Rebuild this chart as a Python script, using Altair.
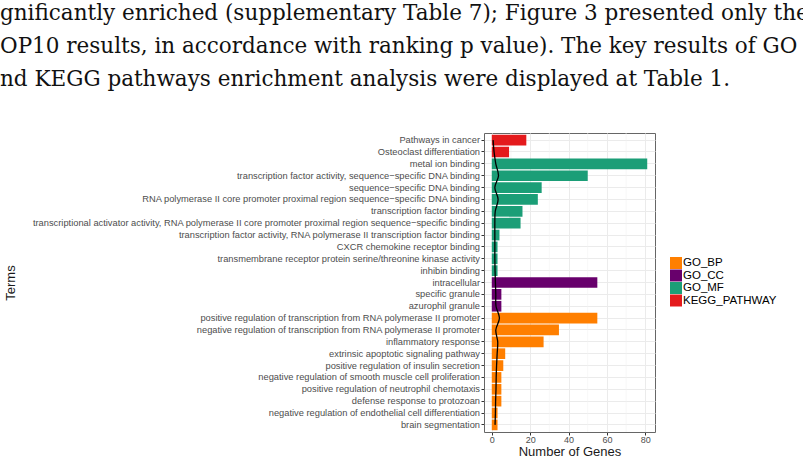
import altair as alt
import pandas as pd

# ---- data ----
terms = [
    "Pathways in cancer",
    "Osteoclast differentiation",
    "metal ion binding",
    "transcription factor activity, sequence\u2212specific DNA binding",
    "sequence\u2212specific DNA binding",
    "RNA polymerase II core promoter proximal region sequence\u2212specific DNA binding",
    "transcription factor binding",
    "transcriptional activator activity, RNA polymerase II core promoter proximal region sequence\u2212specific binding",
    "transcription factor activity, RNA polymerase II transcription factor binding",
    "CXCR chemokine receptor binding",
    "transmembrane receptor protein serine/threonine kinase activity",
    "inhibin binding",
    "intracellular",
    "specific granule",
    "azurophil granule",
    "positive regulation of transcription from RNA polymerase II promoter",
    "negative regulation of transcription from RNA polymerase II promoter",
    "inflammatory response",
    "extrinsic apoptotic signaling pathway",
    "positive regulation of insulin secretion",
    "negative regulation of smooth muscle cell proliferation",
    "positive regulation of neutrophil chemotaxis",
    "defense response to protozoan",
    "negative regulation of endothelial cell differentiation",
    "brain segmentation",
]
categories = (["KEGG_PATHWAY"] * 2 + ["GO_MF"] * 10 + ["GO_CC"] * 3 + ["GO_BP"] * 10)
counts = [18, 9, 81, 50, 26, 24, 16, 15, 4, 3, 3, 3, 55, 5, 5, 55, 35, 27, 7, 6, 5, 5, 5, 3, 3]
trend = [0.7, 1.2, 2.1, 3.5, 1.6, 3.3, 1.8, 1.6, 1.6, 1.6, 1.6, 1.7, 1.9, 2.1, 2.2,
         4.0, 2.1, 3.1, 2.8, 2.5, 2.3, 2.2, 2.0, 1.9, 1.7]

legend_groups = ["GO_BP", "GO_CC", "GO_MF", "KEGG_PATHWAY"]
legend_colors = ["#FF7F00", "#68006C", "#1B9E77", "#E41A1C"]
x_ticks = [0, 20, 40, 60, 80]
x_minor = [10, 30, 50, 70]

text_lines = [
    "gnificantly enriched (supplementary Table 7); Figure 3 presented only the",
    "OP10 results, in accordance with ranking p value). The key results of GO",
    "nd KEGG pathways enrichment analysis were displayed at Table 1.",
]

df = pd.DataFrame({
    "Term": terms,
    "Category": categories,
    "Count": counts,
    "Trend": trend,
    "idx": list(range(len(terms))),
})
minor_df = pd.DataFrame({"v": x_minor})

# ---- layout ----
W, H = 171, 299
PAD = {"left": 484, "top": 133, "right": 148, "bottom": 26}
FONT = "Liberation Sans"

x_scale = alt.Scale(domain=[-4.05, 85.05], nice=False, zero=False)
y_scale = alt.Scale(domain=terms, paddingInner=0.1, paddingOuter=0.15)

x_axis = alt.Axis(
    values=x_ticks, title="Number of Genes", domain=False, grid=True,
    gridColor="#EBEBEB", gridWidth=1, tickColor="#333333", tickSize=3,
    labelFont=FONT, labelFontSize=9, labelColor="#4D4D4D", labelPadding=0.5,
    titleFont=FONT, titleFontSize=13, titleFontWeight="normal", titleColor="#1A1A1A",
    titleX=W / 2, titleY=19.5, titleBaseline="middle", titleAlign="center",
)
y_axis = alt.Axis(
    title="Terms", domain=False, grid=True, gridColor="#EBEBEB", gridWidth=1,
    bandPosition=0.5, tickColor="#333333", tickSize=3, labelFont=FONT,
    labelFontSize=9.3, labelColor="#4D4D4D", labelPadding=1.5, labelLimit=0,
    titleFont=FONT, titleFontSize=13, titleFontWeight="normal", titleColor="#1A1A1A",
    titleX=-474, titleY=H / 2, titleAngle=270, titleBaseline="middle", titleAlign="center",
)

minor = alt.Chart(minor_df).mark_rule(color="#F2F2F2", strokeWidth=0.6).encode(
    x=alt.X("v:Q", scale=x_scale, axis=x_axis)
)

bars = alt.Chart(df).mark_bar().encode(
    x=alt.X("Count:Q", scale=x_scale, axis=x_axis),
    x2=alt.datum(0),
    y=alt.Y("Term:N", sort=terms, scale=y_scale, axis=y_axis),
    color=alt.Color(
        "Category:N",
        scale=alt.Scale(domain=legend_groups, range=legend_colors),
        legend=alt.Legend(
            title=None, orient="none", legendX=186, legendY=124,
            symbolType="square", symbolSize=144, symbolStrokeWidth=0,
            symbolOpacity=1, labelFont=FONT, labelFontSize=11.5, labelColor="#000000",
            labelOffset=1, rowPadding=0.5, padding=0,
        ),
    ),
)

line = alt.Chart(df).mark_line(
    color="#000000", strokeWidth=1.3, interpolate="catmull-rom"
).encode(
    x=alt.X("Trend:Q", scale=x_scale, axis=x_axis),
    y=alt.Y("Term:N", sort=terms, scale=y_scale, axis=y_axis, bandPosition=0.5),
    order=alt.Order("idx:Q"),
)

text_layers = []
baselines = [20, 53, 86]
for t, b in zip(text_lines, baselines):
    tdf = pd.DataFrame({"t": [t]})
    text_layers.append(
        alt.Chart(tdf).mark_text(
            align="left", baseline="alphabetic", font="DejaVu Serif",
            fontSize=21.5, color="#111111",
        ).encode(
            x=alt.value(-PAD["left"]),
            y=alt.value(b - PAD["top"]),
            text="t:N",
        )
    )

chart = alt.layer(minor, bars, line, *text_layers).properties(
    width=W, height=H,
    autosize=alt.AutoSizeParams(type="none"),
    padding=PAD,
    background="#FFFFFF",
).configure_view(stroke="#666666", strokeWidth=1)

chart.save("out.html", embed_options={"renderer": "svg", "actions": False})
